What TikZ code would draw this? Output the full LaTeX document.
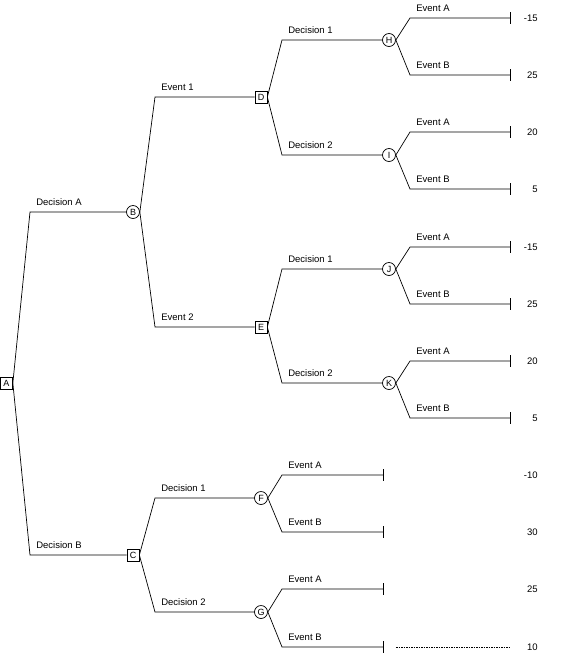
\documentclass[tikz,border=0pt]{standalone}
\usepackage{fontspec}
\setmainfont{Liberation Sans}
\tikzset{
    dec/.style={draw,rectangle,minimum width=12pt,minimum height=12pt,inner sep=0pt,font=\fontsize{9}{9}\selectfont},
    chance/.style={draw,circle,minimum size=13pt,inner sep=0pt,font=\fontsize{9}{9}\selectfont},
    lbl/.style={anchor=base west,xshift=6pt,yshift=7pt,inner sep=0pt},
    val/.style={anchor=east,inner sep=0pt}
}
\begin{document}
\begin{tikzpicture}[x=1pt,y=-1pt,line width=0.7pt,font=\fontsize{9.5}{10}\selectfont]
    \useasboundingbox (0,0) rectangle (570,654);
    % decision and chance nodes
    \node[dec] (A) at (6.5,383) {A};
    \node[chance] (B) at (133,212) {B};
    \node[dec] (C) at (133,555) {C};
    \node[dec] (D) at (261,97) {D};
    \node[dec] (E) at (261,327) {E};
    \node[chance] (F) at (261,498) {F};
    \node[chance] (G) at (261,612) {G};
    \foreach \n/\y in {H/40,I/155,J/269,K/383}
        \node[chance] (\n) at (389,\y) {\n};
    % branches
    \draw (A.east) -- (30,212) node[lbl] {Decision A} -- (B.west);
    \draw (A.east) -- (30,555) node[lbl] {Decision B} -- (C.west);
    \draw (B.east) -- (155,97) node[lbl] {Event 1} -- (D.west);
    \draw (B.east) -- (155,327) node[lbl] {Event 2} -- (E.west);
    \draw (C.east) -- (155,498) node[lbl] {Decision 1} -- (F.west);
    \draw (C.east) -- (155,612) node[lbl] {Decision 2} -- (G.west);
    \foreach \p/\a/\b in {D/H/I,E/J/K} {
        \draw (\p.east) -- (282,0 |- \a) node[lbl] {Decision 1} -- (\a.west);
        \draw (\p.east) -- (282,0 |- \b) node[lbl] {Decision 2} -- (\b.west);
    }
    % end branches
    \foreach \n/\ya/\yb/\xs/\xe in {H/18/75/410/510,I/132/189/410/510,J/247/304/410/510,K/361/418/410/510,F/475/532/282/383,G/589/647/282/383} {
        \draw (\n.east) -- (\xs,\ya) node[lbl] {Event A} -- (\xe,\ya) coordinate (\n a);
        \draw (\n.east) -- (\xs,\yb) node[lbl] {Event B} -- (\xe,\yb) coordinate (\n b);
        \draw ([yshift=6pt]\n a) -- ([yshift=-6pt]\n a);
        \draw ([yshift=6pt]\n b) -- ([yshift=-6pt]\n b);
    }
    \draw[dash pattern=on 1.5pt off 1pt] ([xshift=13pt]Gb) -- ([xshift=127pt]Gb);
    % payoffs
    \foreach \v/\y [count=\i] in {-15/18,25/75,20/132,5/189,-15/247,25/304,20/361,5/418,-10/475,30/532,25/589,10/647}
        \node[val] (v\i) at (538,\y) {\v};
\end{tikzpicture}
\end{document}
